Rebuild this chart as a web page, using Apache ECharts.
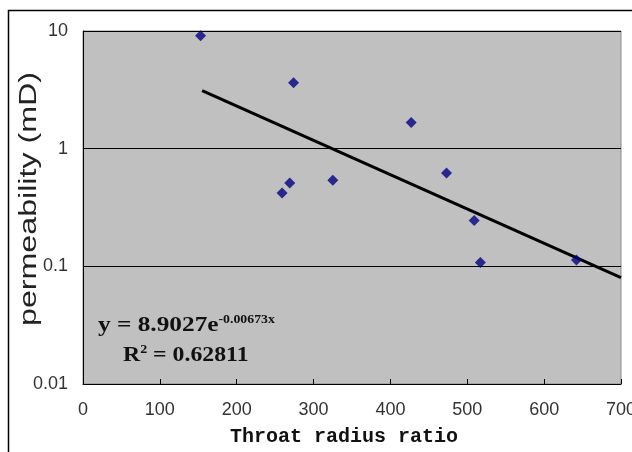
<!DOCTYPE html>
<html><head><meta charset="utf-8">
<script src="https://cdn.jsdelivr.net/npm/echarts@6/dist/echarts.min.js"></script>
<style>html,body{margin:0;padding:0;background:#fff}#c{width:632px;height:452px}</style>
</head><body><div id="c"></div>
<script>
var sampleX = [153, 274, 269, 259, 325, 427, 473, 509, 517, 642];
var sampleY = [9.1, 3.64, 0.51, 0.42, 0.54, 1.67, 0.62, 0.245, 0.108, 0.113];
var trendX = [155, 700];
var trendY = [3.12, 0.080];
var xTicks = [0, 100, 200, 300, 400, 500, 600, 700];
var yTicks = [0.01, 0.1, 1, 10];
var xTitle = 'Throat radius ratio';
var yTitle = 'permeability (mD)';

var chart = echarts.init(document.getElementById('c'));
chart.setOption({
  animation: false,
  backgroundColor: '#fff',
  grid: {left: 83, top: 31, right: 11, bottom: 68, show: true, outerBoundsMode: 'none', containLabel: false,
         backgroundColor: '#c0c0c0', borderColor: '#8a8a8a', borderWidth: 1},
  xAxis: {
    type: 'value', min: xTicks[0], max: xTicks[xTicks.length - 1], interval: 100,
    axisLine: {show: true, lineStyle: {color: '#000', width: 1}},
    axisTick: {show: true, inside: true, length: 5, lineStyle: {color: '#000'}},
    axisLabel: {margin: 17, fontFamily: 'Liberation Sans', fontSize: 18, color: '#333', showMaxLabel: true},
    splitLine: {show: false}
  },
  yAxis: {
    type: 'log', logBase: 10, min: yTicks[0], max: yTicks[yTicks.length - 1],
    axisLine: {show: true, lineStyle: {color: '#000', width: 1}},
    axisTick: {show: true, inside: true, length: 5, lineStyle: {color: '#000'}},
    axisLabel: {margin: 15, fontFamily: 'Liberation Sans', fontSize: 18, color: '#333',
      formatter: function (v) { return String(+v.toPrecision(3)); }},
    splitLine: {show: true, lineStyle: {color: '#000', width: 1}}
  },
  series: [
    {type: 'line', data: trendX.map(function (x, i) { return [x, trendY[i]]; }),
     symbol: 'none', lineStyle: {color: '#000', width: 3}, z: 3},
    {type: 'scatter', data: sampleX.map(function (x, i) { return [x, sampleY[i]]; }),
     symbol: 'diamond', symbolSize: 11, itemStyle: {color: '#000080'}, z: 4}
  ],
  graphic: [
    {type: 'rect', shape: {x: 8.5, y: 10.5, width: 700, height: 500},
     style: {fill: 'none', stroke: '#000', lineWidth: 1.5}, z: 100},
    {type: 'text', x: 29.5, y: 199, rotation: Math.PI / 2, scaleX: 1.4, z: 100,
     style: {text: yTitle, fontFamily: 'Liberation Sans', fontSize: 23, fill: '#222',
             align: 'center', verticalAlign: 'middle'}},
    {type: 'text', x: 344, y: 437, z: 100,
     style: {text: xTitle, fontFamily: 'Liberation Mono', fontWeight: 'bold', fontSize: 20, fill: '#111',
             align: 'center', verticalAlign: 'middle'}},
    {type: 'text', x: 98, y: 325, scaleX: 1.15, z: 100,
     style: {verticalAlign: 'middle', rich: {
       m: {fontFamily: 'Liberation Serif', fontWeight: 'bold', fontSize: 22, fill: '#111'},
       s: {fontFamily: 'Liberation Serif', fontWeight: 'bold', fontSize: 12, fill: '#111', padding: [0, 0, 11, 0]}
     }, text: '{m|y = 8.9027e}{s|-0.00673x}'}},
    {type: 'text', x: 123, y: 355, scaleX: 1.08, z: 100,
     style: {verticalAlign: 'middle', rich: {
       m: {fontFamily: 'Liberation Serif', fontWeight: 'bold', fontSize: 22, fill: '#111'},
       s: {fontFamily: 'Liberation Serif', fontWeight: 'bold', fontSize: 13, fill: '#111', padding: [0, 0, 11, 0]}
     }, text: '{m|R}{s|2}{m| = 0.62811}'}}
  ]
});
</script></body></html>
